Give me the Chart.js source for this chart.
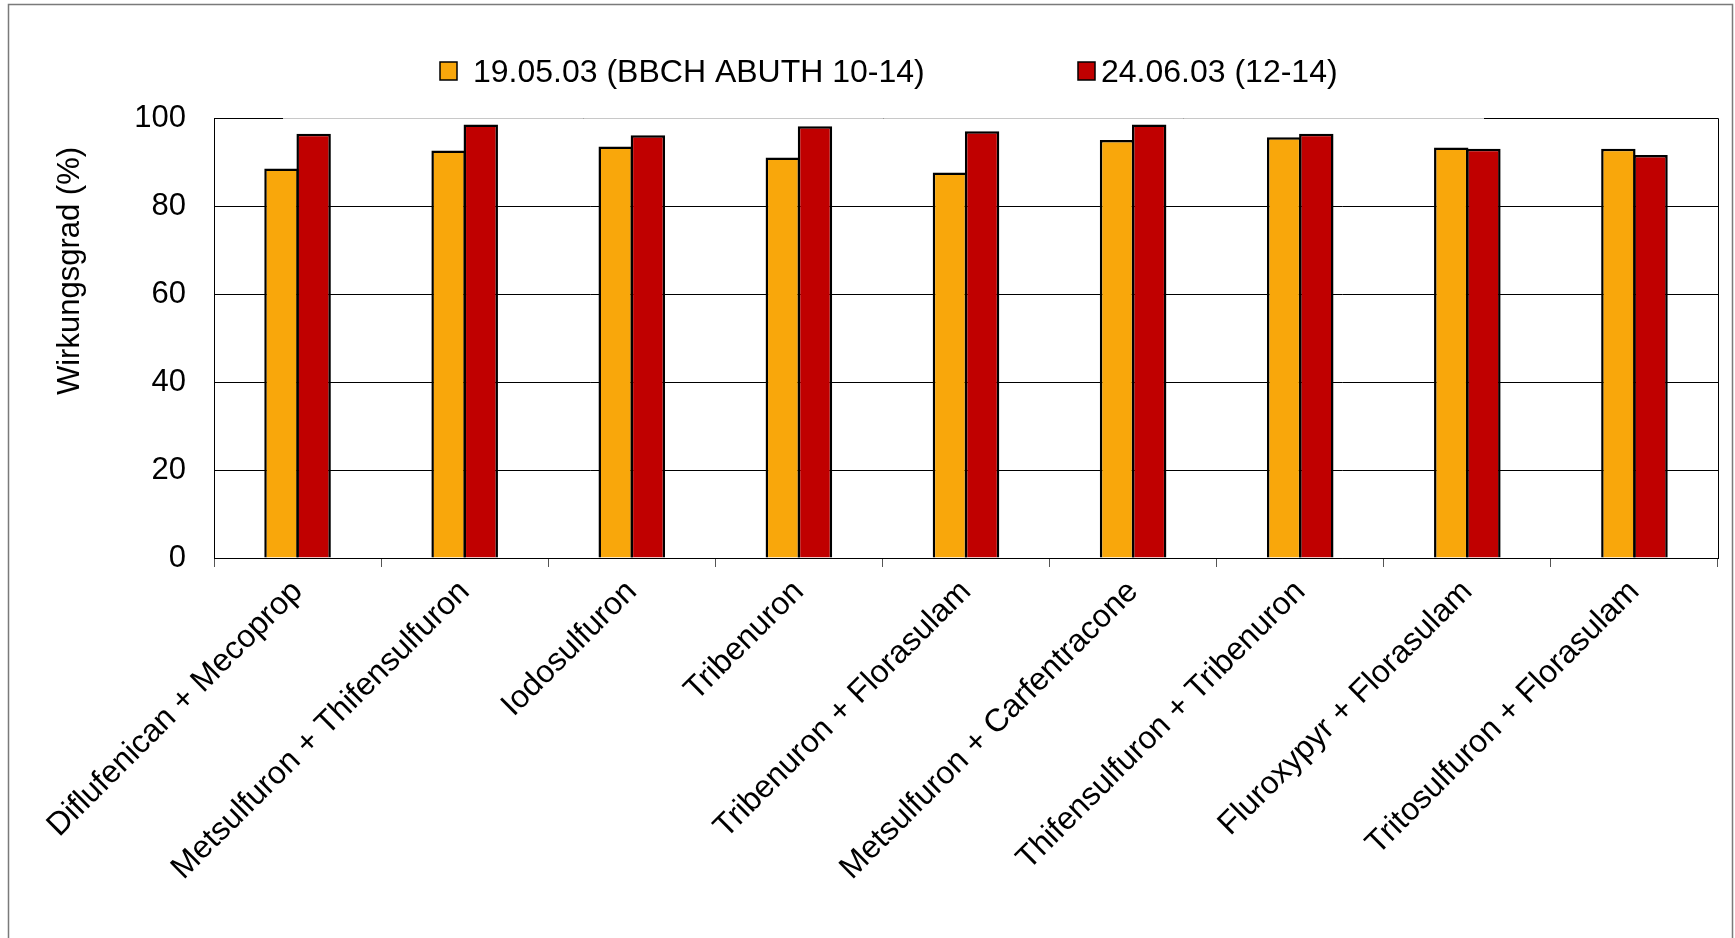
<!DOCTYPE html>
<html>
<head>
<meta charset="utf-8">
<script src="https://cdn.jsdelivr.net/npm/chart.js@4.4.0/dist/chart.umd.min.js"></script>
<style>
body{margin:0;background:#fff;}
</style>
</head>
<body>
<canvas id="myChart" width="1735" height="938"></canvas>
<script>
const categories=["Diflufenican + Mecoprop","Metsulfuron + Thifensulfuron","Iodosulfuron","Tribenuron","Tribenuron + Florasulam","Metsulfuron + Carfentracone","Thifensulfuron + Tribenuron","Fluroxypyr + Florasulam","Tritosulfuron + Florasulam"];
const seriesNames=["19.05.03 (BBCH ABUTH 10-14)","24.06.03 (12-14)"];
const may19=[88.5,92.6,93.5,91.0,87.6,95.0,95.6,93.3,93.0];
const jun24=[96.4,98.5,96.1,98.1,97.0,98.5,96.4,93.0,91.6];
const seriesColors=["#f9a70b","#c00000"];
const yTitle="Wirkungsgrad (%)";

const FONT="Liberation Sans, Arial, sans-serif";

// frame, legend and axis title the way excel places them
const excelDecor={
    id:"excelDecor",
    afterDraw(chart){
        const ctx=chart.ctx;
        const a=chart.chartArea;
        ctx.save();

        // plot area border (right + top)
        ctx.strokeStyle="#000";
        ctx.lineWidth=1;
        ctx.beginPath();
        ctx.moveTo(a.left,a.top+0.5);
        ctx.lineTo(a.right+0.5,a.top+0.5);
        ctx.lineTo(a.right+0.5,a.bottom);
        ctx.stroke();

        // legend box covers the top border
        ctx.strokeStyle="#c8c8c8";
        ctx.beginPath();
        ctx.moveTo(283,a.top+0.5);
        ctx.lineTo(1484,a.top+0.5);
        ctx.stroke();

        // outer frame
        ctx.strokeStyle="#7a7a7a";
        ctx.lineWidth=1.5;
        ctx.beginPath();
        ctx.moveTo(8.5,940);
        ctx.lineTo(8.5,4.5);
        ctx.lineTo(1732.5,4.5);
        ctx.lineTo(1732.5,940);
        ctx.stroke();

        // legend
        const items=[{box:440,text:473},{box:1078,text:1101}];
        ctx.font="32px "+FONT;
        ctx.textBaseline="alphabetic";
        ctx.textAlign="left";
        items.forEach((it,i)=>{
            ctx.fillStyle=seriesColors[i];
            ctx.fillRect(it.box,62,17,18);
            ctx.strokeStyle="#000";
            ctx.lineWidth=1.5;
            ctx.strokeRect(it.box,62,17,18);
            ctx.fillStyle="#000";
            ctx.fillText(seriesNames[i],it.text,82);
        });

        // y axis title
        ctx.translate(70,271);
        ctx.rotate(-Math.PI/2);
        ctx.font="31px "+FONT;
        ctx.textAlign="center";
        ctx.textBaseline="middle";
        ctx.fillStyle="#000";
        ctx.fillText(yTitle,0,0);
        ctx.restore();
    }
};

let myChart=new Chart("myChart",{
    type:"bar",
    data:{
        labels:categories,
        datasets:[{
            label:seriesNames[0],
            data:may19,
            backgroundColor:seriesColors[0],
            borderColor:"#000",
            borderWidth:2.5
        },{
            label:seriesNames[1],
            data:jun24,
            backgroundColor:seriesColors[1],
            borderColor:"#000",
            borderWidth:2.5
        }]
    },
    options:{
        responsive:false,
        animation:false,
        categoryPercentage:0.385,
        barPercentage:1.07,
        layout:{padding:{left:0,top:118,right:17,bottom:0}},
        plugins:{
            legend:{display:false},
            title:{display:false},
            tooltip:{enabled:false}
        },
        scales:{
            x:{
                grid:{
                    display:true,
                    drawOnChartArea:false,
                    drawTicks:true,
                    tickLength:9,
                    color:"#555"
                },
                border:{display:true,color:"#000",width:1},
                ticks:{
                    autoSkip:false,
                    maxRotation:45,
                    minRotation:45,
                    color:"#000",
                    padding:6,
                    font:{family:FONT,size:32}
                },
                afterFit(scale){scale.height=380;}
            },
            y:{
                min:0,
                max:100,
                ticks:{
                    stepSize:20,
                    color:"#000",
                    padding:28,
                    font:{family:FONT,size:31}
                },
                grid:{
                    color:"#000",
                    lineWidth:1,
                    drawTicks:false
                },
                border:{display:true,color:"#000",width:1},
                afterFit(scale){scale.width=214;}
            }
        }
    },
    plugins:[excelDecor]
});
</script>
</body>
</html>
